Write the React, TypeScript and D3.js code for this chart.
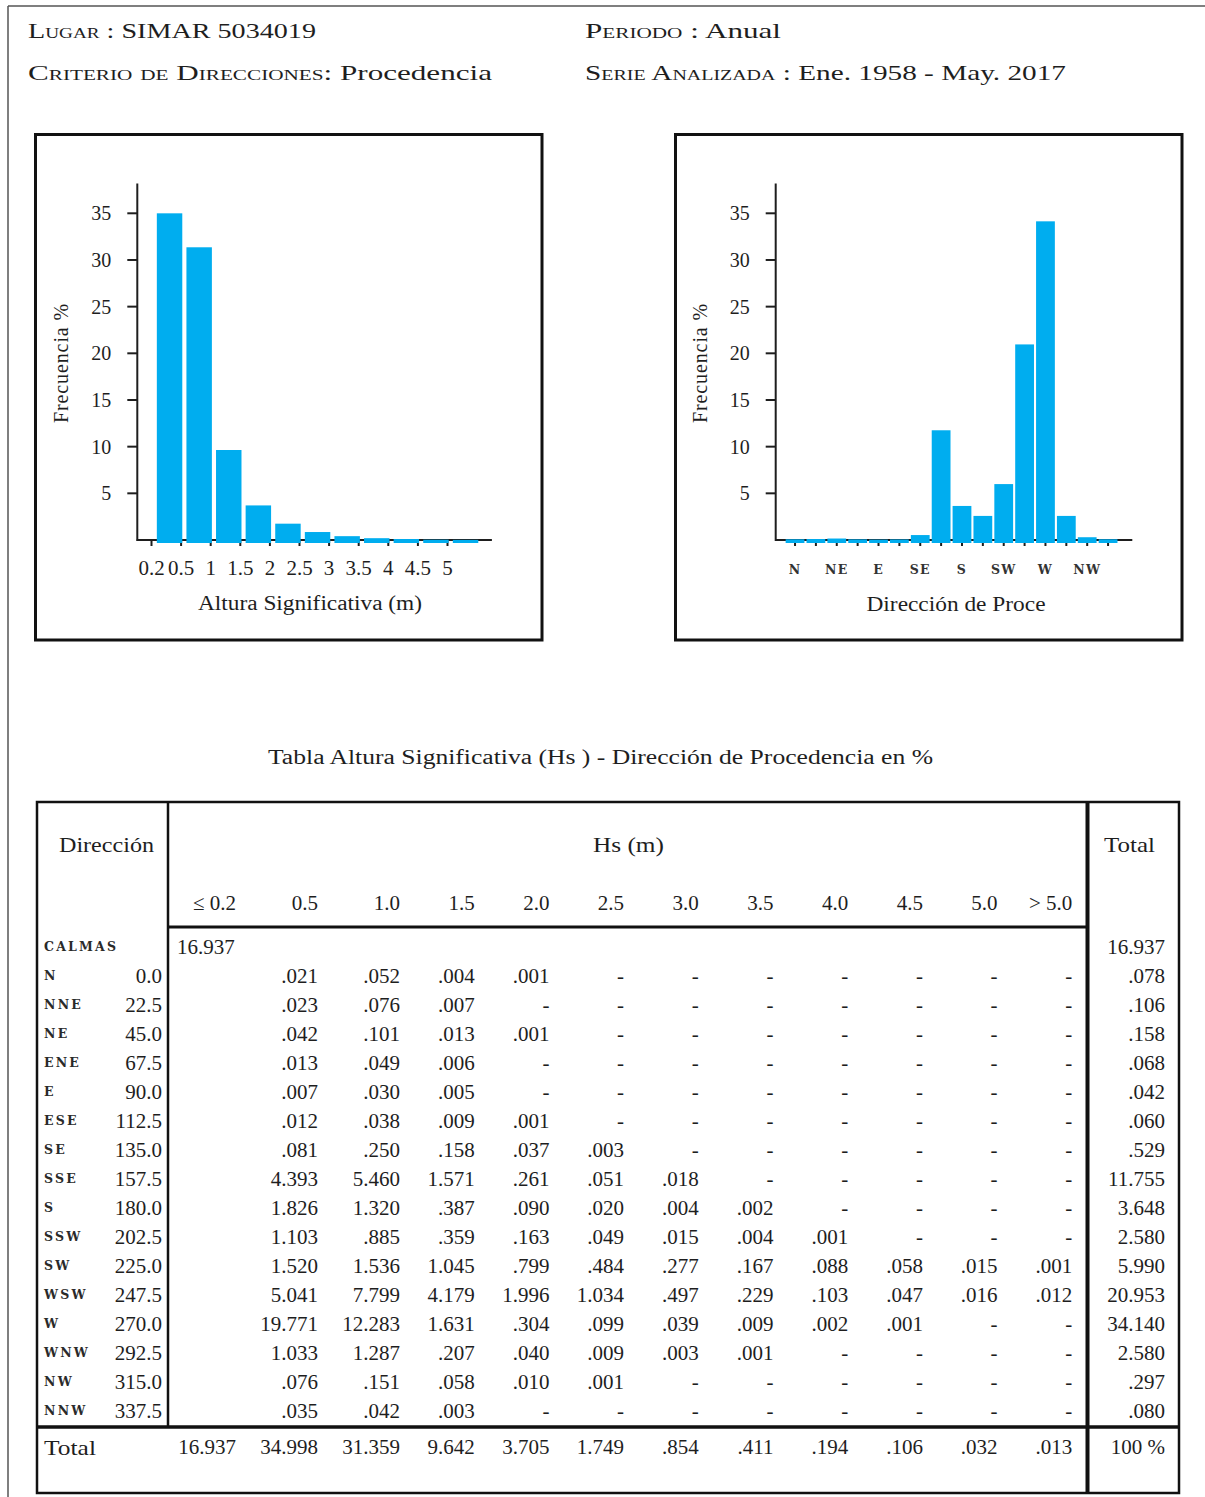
import React from "react";
import * as d3 from "d3";

// ---- data ----
const hsTickLabels = ["0.2", "0.5", "1", "1.5", "2", "2.5", "3", "3.5", "4", "4.5", "5"];
const hsColumns = ["\u2264 0.2", "0.5", "1.0", "1.5", "2.0", "2.5", "3.0", "3.5", "4.0", "4.5", "5.0", "> 5.0"];
const columnTotals = [16.937, 34.998, 31.359, 9.642, 3.705, 1.749, 0.854, 0.411, 0.194, 0.106, 0.032, 0.013];
const calmas = 16.937;

const dirNames = ["N", "NNE", "NE", "ENE", "E", "ESE", "SE", "SSE", "S", "SSW", "SW", "WSW", "W", "WNW", "NW", "NNW"];
const dirAngles = ["0.0", "22.5", "45.0", "67.5", "90.0", "112.5", "135.0", "157.5", "180.0", "202.5", "225.0", "247.5", "270.0", "292.5", "315.0", "337.5"];
const dirTickLabels = ["N", "", "NE", "", "E", "", "SE", "", "S", "", "SW", "", "W", "", "NW", ""];
const dirTotals = [0.078, 0.106, 0.158, 0.068, 0.042, 0.06, 0.529, 11.755, 3.648, 2.58, 5.99, 20.953, 34.14, 2.58, 0.297, 0.08];

// Hs classes 0.5 .. >5.0 per direction (null = no occurrences)
const cells: (number | null)[][] = [
  [0.021, 0.052, 0.004, 0.001, null, null, null, null, null, null, null],
  [0.023, 0.076, 0.007, null, null, null, null, null, null, null, null],
  [0.042, 0.101, 0.013, 0.001, null, null, null, null, null, null, null],
  [0.013, 0.049, 0.006, null, null, null, null, null, null, null, null],
  [0.007, 0.03, 0.005, null, null, null, null, null, null, null, null],
  [0.012, 0.038, 0.009, 0.001, null, null, null, null, null, null, null],
  [0.081, 0.25, 0.158, 0.037, 0.003, null, null, null, null, null, null],
  [4.393, 5.46, 1.571, 0.261, 0.051, 0.018, null, null, null, null, null],
  [1.826, 1.32, 0.387, 0.09, 0.02, 0.004, 0.002, null, null, null, null],
  [1.103, 0.885, 0.359, 0.163, 0.049, 0.015, 0.004, 0.001, null, null, null],
  [1.52, 1.536, 1.045, 0.799, 0.484, 0.277, 0.167, 0.088, 0.058, 0.015, 0.001],
  [5.041, 7.799, 4.179, 1.996, 1.034, 0.497, 0.229, 0.103, 0.047, 0.016, 0.012],
  [19.771, 12.283, 1.631, 0.304, 0.099, 0.039, 0.009, 0.002, 0.001, null, null],
  [1.033, 1.287, 0.207, 0.04, 0.009, 0.003, 0.001, null, null, null, null],
  [0.076, 0.151, 0.058, 0.01, 0.001, null, null, null, null, null, null],
  [0.035, 0.042, 0.003, null, null, null, null, null, null, null, null],
];
const yTicks = [5, 10, 15, 20, 25, 30, 35];

// ---- style ----
const SERIF = "'Liberation Serif', 'Times New Roman', serif";
const WIDE = "'DejaVu Serif', serif";
const INK = "#1e1e1e";
const BAR = "#00adef";
const SC = { fontVariant: "small-caps" } as React.CSSProperties;

const fmt = (v: number) => d3.format(".3f")(v).replace(/^0\./, ".");

const yScale = d3.scaleLinear().domain([0, 35]).range([540, 213.3]);
const yTop = yScale(38.2);

function YAxis({ x, labelX }: { x: number; labelX: number }) {
  return (
    <g>
      <line x1={x} x2={x} y1={yTop} y2={yScale(0) + 1} stroke={INK} strokeWidth={2} />
      {yTicks.map((t) => (
        <g key={t}>
          <line x1={x - 10} x2={x} y1={yScale(t)} y2={yScale(t)} stroke={INK} strokeWidth={2} />
          <text x={x - 26} y={yScale(t)} dy="0.35em" textAnchor="end" fontFamily={SERIF} fontSize={20} fill={INK}>
            {t}
          </text>
        </g>
      ))}
      <text
        transform={`translate(${labelX},363) rotate(-90)`}
        textAnchor="middle"
        dy="0.35em"
        fontFamily={SERIF}
        fontSize={20}
        letterSpacing={0.9}
        fill={INK}
      >
        Frecuencia %
      </text>
    </g>
  );
}

function HsChart() {
  const x = d3.scaleLinear().domain([0, 10]).range([151.5, 447.5]);
  const y0 = yScale(0);
  return (
    <g>
      <rect x={35.5} y={134.5} width={506.5} height={505.5} fill="none" stroke="#111" strokeWidth={3} />
      {hsTickLabels.map((l, i) => (
        <g key={l}>
          <line x1={x(i)} x2={x(i)} y1={y0} y2={y0 + 6} stroke={INK} strokeWidth={2} />
          <text x={x(i)} y={568} dy="0.35em" textAnchor="middle" fontFamily={SERIF} fontSize={21} fill={INK}>
            {l}
          </text>
        </g>
      ))}
      <line x1={x(-0.5)} x2={x(11.5)} y1={y0} y2={y0} stroke={INK} strokeWidth={2} />
      {columnTotals.slice(1).map((v, i) => (
        <rect
          key={i}
          x={x(i + 0.18)}
          width={x(i + 1.04) - x(i + 0.18)}
          y={yScale(v)}
          height={y0 + 3 - yScale(v)}
          fill={BAR}
        />
      ))}
      <YAxis x={137.3} labelX={61} />
      <text x={310} y={603} dy="0.35em" textAnchor="middle" fontFamily={SERIF} fontSize={20} textLength={224} lengthAdjust="spacingAndGlyphs" fill={INK}>
        Altura Significativa (m)
      </text>
    </g>
  );
}

function DirChart() {
  const x = d3.scaleBand<string>().domain(dirNames).range([784.6, 1118.5]).paddingInner(0.1).paddingOuter(0.05);
  const y0 = yScale(0);
  const bw = x.bandwidth();
  return (
    <g>
      <rect x={675.5} y={134.5} width={506.5} height={505.5} fill="none" stroke="#111" strokeWidth={3} />
      {dirNames.map((d, i) => (
        <g key={d}>
          <line x1={x(d)! + bw / 2} x2={x(d)! + bw / 2} y1={y0} y2={y0 + 6} stroke={INK} strokeWidth={2} />
          {dirTickLabels[i] && (
            <text x={x(d)! + bw / 2} y={570} dy="0.35em" textAnchor="middle" fontFamily={WIDE} fontWeight="bold" fontSize={12.5} letterSpacing={1.2} fill="#333">
              {dirTickLabels[i]}
            </text>
          )}
        </g>
      ))}
      <line x1={775.7} x2={1132.3} y1={y0} y2={y0} stroke={INK} strokeWidth={2} />
      {dirTotals.map((v, i) => (
        <rect key={i} x={x(dirNames[i])!} width={bw} y={yScale(v)} height={y0 + 3 - yScale(v)} fill={BAR} />
      ))}
      <YAxis x={775.7} labelX={700} />
      <text x={956} y={604} dy="0.35em" textAnchor="middle" fontFamily={SERIF} fontSize={20} textLength={179} lengthAdjust="spacingAndGlyphs" fill={INK}>
        Dirección de Proce
      </text>
    </g>
  );
}

function Table() {
  // right edges of the Hs columns
  const colX = (i: number) => (i < 2 ? 236 + 82 * i : 400 + 74.7 * (i - 2));
  const rowY = (i: number) => 947 + 29 * i;
  const totalX = 1165;
  const fs = 21;
  const labelFont = { fontFamily: WIDE, fontWeight: "bold", fontSize: 12.5, letterSpacing: 2.2, fill: "#2a2a2a" } as const;
  return (
    <g fontFamily={SERIF} fill={INK}>
      <text x={268} y={757} dy="0.35em" fontSize={20} textLength={665} lengthAdjust="spacingAndGlyphs">
        Tabla Altura Significativa (Hs ) - Dirección de Procedencia en %
      </text>
      {/* frame */}
      <rect x={37} y={802} width={1142} height={691} fill="none" stroke="#111" strokeWidth={2.5} />
      <line x1={168} x2={168} y1={802} y2={1427} stroke="#111" strokeWidth={2.5} />
      <line x1={1087.5} x2={1087.5} y1={802} y2={1493} stroke="#111" strokeWidth={4} />
      <line x1={168} x2={1087} y1={927} y2={927} stroke="#111" strokeWidth={3} />
      <line x1={37} x2={1179} y1={1427} y2={1427} stroke="#111" strokeWidth={3.5} />

      {/* headers */}
      <text x={59} y={845} dy="0.35em" fontSize={21} textLength={95} lengthAdjust="spacingAndGlyphs">Dirección</text>
      <text x={593} y={845} dy="0.35em" fontSize={21} textLength={71} lengthAdjust="spacingAndGlyphs">Hs (m)</text>
      <text x={1104} y={845} dy="0.35em" fontSize={21} textLength={51} lengthAdjust="spacingAndGlyphs">Total</text>
      {hsColumns.map((c, i) => (
        <text key={c} x={colX(i)} y={903} dy="0.35em" textAnchor="end" fontSize={fs}>
          {c}
        </text>
      ))}

      {/* calms */}
      <text x={44} y={rowY(0)} dy="0.35em" {...labelFont}>CALMAS</text>
      <text x={177} y={rowY(0)} dy="0.35em" fontSize={fs}>{fmt(calmas)}</text>
      <text x={totalX} y={rowY(0)} dy="0.35em" textAnchor="end" fontSize={fs}>{fmt(calmas)}</text>

      {/* directions */}
      {dirNames.map((d, r) => (
        <g key={d}>
          <text x={44} y={rowY(r + 1)} dy="0.35em" {...labelFont}>{d}</text>
          <text x={162} y={rowY(r + 1)} dy="0.35em" textAnchor="end" fontSize={fs}>{dirAngles[r]}</text>
          {cells[r].map((v, c) => (
            <text key={c} x={colX(c + 1)} y={rowY(r + 1)} dy="0.35em" textAnchor="end" fontSize={fs}>
              {v === null ? "-" : fmt(v)}
            </text>
          ))}
          <text x={totalX} y={rowY(r + 1)} dy="0.35em" textAnchor="end" fontSize={fs}>{fmt(dirTotals[r])}</text>
        </g>
      ))}

      {/* totals */}
      <text x={44} y={1447} dy="0.35em" fontSize={22} textLength={52} lengthAdjust="spacingAndGlyphs">Total</text>
      {columnTotals.map((v, i) => (
        <text key={i} x={colX(i)} y={1447} dy="0.35em" textAnchor="end" fontSize={fs}>{fmt(v)}</text>
      ))}
      <text x={totalX} y={1447} dy="0.35em" textAnchor="end" fontSize={fs}>100 %</text>
    </g>
  );
}

export default function App() {
  return (
    <svg
      width={1205}
      height={1497}
      viewBox="0 0 1205 1497"
      style={{ position: "absolute", left: 0, top: 0, display: "block", background: "#fff" }}
    >
      {/* page frame */}
      <line x1={8} x2={1205} y1={6} y2={6} stroke="#555" strokeWidth={1.5} />
      <line x1={8} x2={8} y1={6} y2={1497} stroke="#555" strokeWidth={1.5} />

      {/* header */}
      <g fontFamily={SERIF} fontSize={22} fill={INK}>
        <text x={28} y={38} textLength={288} lengthAdjust="spacingAndGlyphs">
          <tspan style={SC}>Lugar</tspan> : SIMAR 5034019
        </text>
        <text x={585} y={38} textLength={196} lengthAdjust="spacingAndGlyphs">
          <tspan style={SC}>Periodo</tspan> : Anual
        </text>
        <text x={28} y={80} textLength={464} lengthAdjust="spacingAndGlyphs">
          <tspan style={SC}>Criterio de Direcciones</tspan>: Procedencia
        </text>
        <text x={585} y={80} textLength={481} lengthAdjust="spacingAndGlyphs">
          <tspan style={SC}>Serie Analizada</tspan> : Ene. 1958 - May. 2017
        </text>
      </g>

      <HsChart />
      <DirChart />
      <Table />
    </svg>
  );
}
